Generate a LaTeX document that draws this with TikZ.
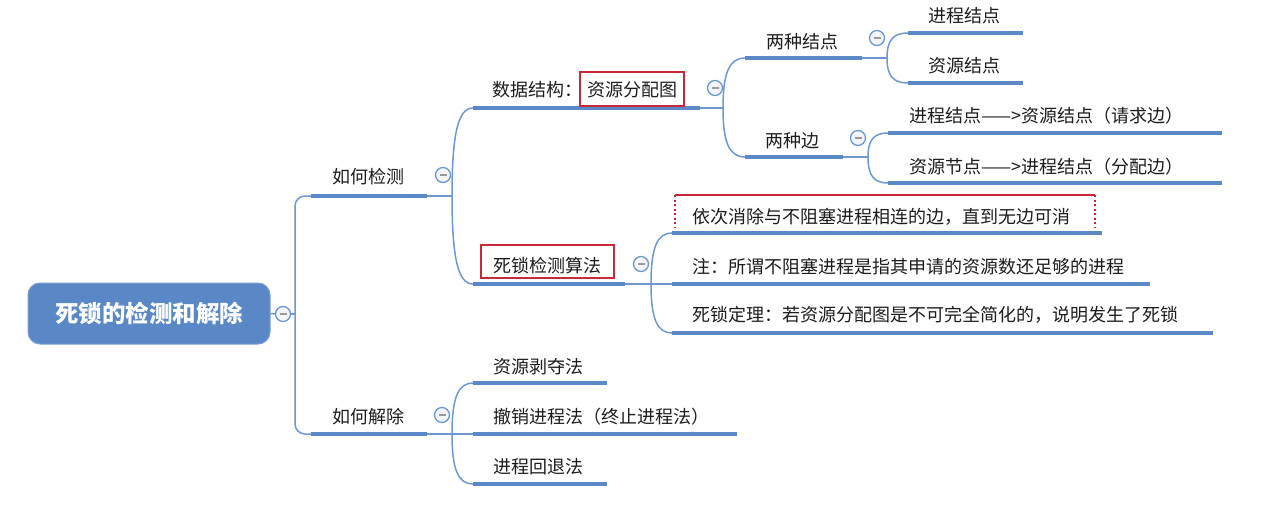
\documentclass[tikz,border=0pt]{standalone}
\usepackage{fontspec}
\setmainfont{Noto Sans CJK SC}
\usetikzlibrary{calc}
\definecolor{ublue}{HTML}{5B88C6}
\definecolor{cblue}{HTML}{6E98CF}
\definecolor{rootfill}{HTML}{5A87C5}
\definecolor{tcol}{HTML}{1C1C1C}
\definecolor{rbox}{HTML}{C8283A}
\definecolor{cfill}{HTML}{F3F5FA}
\newcommand\branchto[2]{\draw[conn] (#1) .. controls ($(#1)!0.72!(#1|-#2)$) and ($(#1|-#2)!0.3!(#2)$) .. (#2);}
\begin{document}
\begin{tikzpicture}[x=1pt,y=-1pt,
  uline/.style={line width=4.5pt, draw=ublue},
  conn/.style={line width=1.5pt, draw=cblue},
  txt/.style={font=\fontsize{18}{21}\selectfont, text=tcol, inner sep=0pt},
  redframe/.style={draw=rbox, line width=1.3pt, inner sep=0pt},
  coll/.style={circle, draw=cblue, line width=1.3pt, fill=cfill, minimum size=15pt, inner sep=0pt,
    path picture={\draw[gray!80, line width=1.3pt] ([xshift=-3.5pt]path picture bounding box.center) -- ([xshift=3.5pt]path picture bounding box.center);}},
  root/.style={rounded corners=12pt, fill=rootfill, draw=rootfill!80!white, line width=1pt, minimum width=242pt, minimum height=61pt, text=white, font=\fontsize{23.5}{26}\selectfont\bfseries},
]
\useasboundingbox (0,0) rectangle (1269,519);

% root
\node[root] (root) at (149,313.5) {死锁的检测和解除};
\node[coll] (c0) at (283,314) {};
\coordinate (t0) at (295,314);
\draw[conn] (root.east) -- (c0.west);
\draw[conn] (c0.east) -- (t0);

% level 1
\coordinate (a1s) at (311,196); \coordinate (a1e) at (427,196);
\coordinate (a2s) at (311,434); \coordinate (a2e) at (427,434);
\draw[conn,rounded corners=10pt] (t0) |- (a1s);
\draw[conn,rounded corners=10pt] (t0) |- (a2s);
\draw[uline] (a1s) -- (a1e);
\draw[uline] (a2s) -- (a2e);
\node[txt] (a1) at (368,177) {如何检测};
\node[txt] (a2) at (368,417) {如何解除};
\node[coll] (c1) at (443,175) {};
\node[coll] (c2) at (442,415) {};
\coordinate (j1) at (452,196);
\coordinate (j2) at (452,434);
\draw[conn] (a1e) -- (j1);
\draw[conn] (a2e) -- (j2);

% 数据结构
\coordinate (b1s) at (473,108); \coordinate (b1e) at (700,108);
\branchto{j1}{b1s}
\draw[uline] (b1s) -- (b1e);
\node[txt, anchor=west] (b1) at (492,90) {数据结构：};
\node[redframe, minimum width=104pt, minimum height=34pt] (b1box) at (632,89) {};
\node[txt] (b1r) at (632,90) {资源分配图};
\node[coll] (c3) at (715,88) {};
\coordinate (j3) at (723,108);
\draw[conn] (b1e) -- (j3);

% 死锁检测算法
\coordinate (b2s) at (473,284); \coordinate (b2e) at (625,284);
\branchto{j1}{b2s}
\draw[uline] (b2s) -- (b2e);
\node[redframe, minimum width=133pt, minimum height=33pt] (b2box) at (547.5,261.5) {};
\node[txt] (b2) at (547.5,266) {死锁检测算法};
\node[coll] (c4) at (641,264) {};
\coordinate (j4) at (651,284);
\draw[conn] (b2e) -- (j4);

% 两种结点
\coordinate (d1s) at (745,58); \coordinate (d1e) at (862,58);
\branchto{j3}{d1s}
\draw[uline] (d1s) -- (d1e);
\node[txt] (d1) at (802,42) {两种结点};
\node[coll] (c5) at (877,38) {};
\coordinate (j5) at (887,58);
\draw[conn] (d1e) -- (j5);

% 两种边
\coordinate (d2s) at (745,157); \coordinate (d2e) at (843,157);
\branchto{j3}{d2s}
\draw[uline] (d2s) -- (d2e);
\node[txt] (d2) at (792,141) {两种边};
\node[coll] (c6) at (858,138) {};
\coordinate (j6) at (868,157);
\draw[conn] (d2e) -- (j6);

% children of 两种结点
\coordinate (e1s) at (908,33); \coordinate (e1e) at (1023,33);
\coordinate (e2s) at (908,83); \coordinate (e2e) at (1023,83);
\branchto{j5}{e1s}
\branchto{j5}{e2s}
\draw[uline] (e1s) -- (e1e);
\draw[uline] (e2s) -- (e2e);
\node[txt] (e1) at (964,16) {进程结点};
\node[txt] (e2) at (964,66) {资源结点};

% children of 两种边
\coordinate (f1s) at (888,133); \coordinate (f1e) at (1222,133);
\coordinate (f2s) at (888,183); \coordinate (f2e) at (1222,183);
\branchto{j6}{f1s}
\branchto{j6}{f2s}
\draw[uline] (f1s) -- (f1e);
\draw[uline] (f2s) -- (f2e);
\node[txt, anchor=west] (f1) at (909,116) {进程结点——>资源结点（请求边）};
\node[txt, anchor=west] (f2) at (909,167) {资源节点——>进程结点（分配边）};

% children of 死锁检测算法
\coordinate (g1s) at (672,233); \coordinate (g1e) at (1102,233);
\coordinate (g2s) at (672,284); \coordinate (g2e) at (1150,284);
\coordinate (g3s) at (672,333); \coordinate (g3e) at (1213,333);
\branchto{j4}{g1s}
\draw[conn] (j4) -- (g2s);
\branchto{j4}{g3s}
\draw[uline] (g1s) -- (g1e);
\draw[uline] (g2s) -- (g2e);
\draw[uline] (g3s) -- (g3e);
\node[txt, anchor=west] (g1) at (692,217) {依次消除与不阻塞进程相连的边，直到无边可消};
\node[txt, anchor=west] (g2) at (692,267) {注：所谓不阻塞进程是指其申请的资源数还足够的进程};
\node[txt, anchor=west] (g3) at (692,315) {死锁定理：若资源分配图是不可完全简化的，说明发生了死锁};
\coordinate (r1) at (675,227); \coordinate (r2) at (675,195);
\coordinate (r3) at (1095,195); \coordinate (r4) at (1095,227);
\draw[rbox, line width=1.3pt] (r2) -- (r3);
\draw[rbox, line width=1.5pt, dash pattern=on 2pt off 2.5pt] (r2) -- (r1) (r3) -- (r4);

% children of 如何解除
\coordinate (h1s) at (473,383); \coordinate (h1e) at (607,383);
\coordinate (h2s) at (473,434); \coordinate (h2e) at (737,434);
\coordinate (h3s) at (473,484); \coordinate (h3e) at (607,484);
\branchto{j2}{h1s}
\draw[conn] (j2) -- (h2s);
\branchto{j2}{h3s}
\draw[uline] (h1s) -- (h1e);
\draw[uline] (h2s) -- (h2e);
\draw[uline] (h3s) -- (h3e);
\node[txt, anchor=west] (h1) at (493,367) {资源剥夺法};
\node[txt, anchor=west] (h2) at (493,417) {撤销进程法（终止进程法）};
\node[txt, anchor=west] (h3) at (493,467) {进程回退法};
\end{tikzpicture}
\end{document}
